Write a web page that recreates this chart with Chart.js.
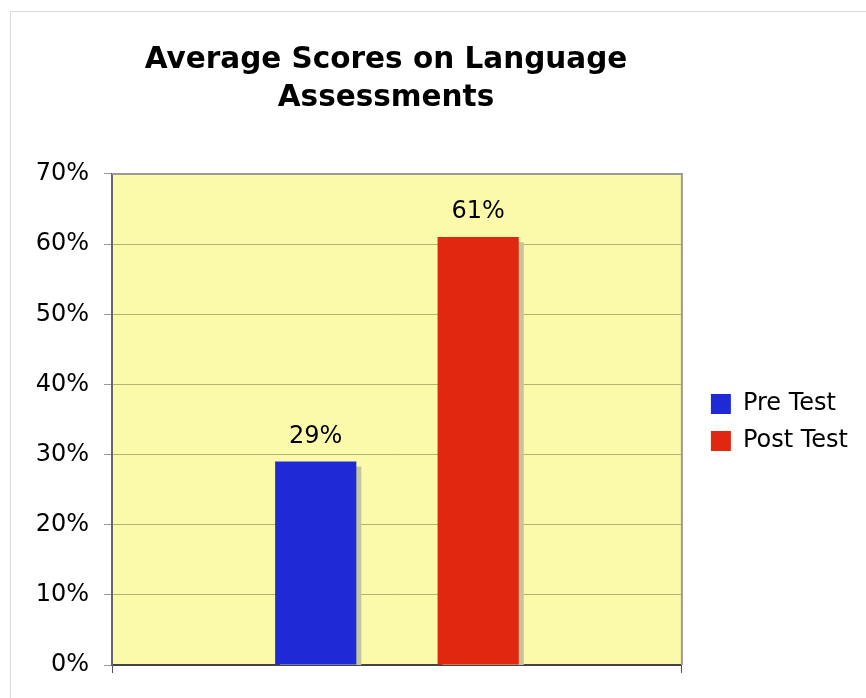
<!DOCTYPE html>
<html>
<head>
<meta charset="utf-8">
<script src="https://cdn.jsdelivr.net/npm/chart.js@4.4.1/dist/chart.umd.min.js"></script>
<style>
html,body{margin:0;padding:0;background:#fff;}
#frame{position:absolute;left:10px;top:11px;width:900px;height:800px;border-top:1px solid #dadada;border-left:1px solid #dadada;}
#wrap{position:absolute;left:0;top:0;width:866px;height:698px;}
</style>
</head>
<body>
<div id="frame"></div>
<div id="wrap"><canvas id="c" width="866" height="698"></canvas></div>
<script>
const titleLines = ["Average Scores on Language", "Assessments"];
const categories = [""];
const seriesNames = ["Pre Test", "Post Test"];
const preTest = [29];
const postTest = [61];
const seriesColors = ["#1F2AD6", "#E02810"];
const yMax = 70;
const yStep = 10;

const FONT = "'DejaVu Sans', Verdana, sans-serif";

const plotDecor = {
  id: 'plotDecor',
  beforeDraw(chart) {
    const {ctx, chartArea: a} = chart;
    ctx.save();
    ctx.fillStyle = '#FAFAAA';
    ctx.fillRect(a.left, a.top, a.right - a.left, a.bottom - a.top);
    ctx.restore();
  },
  beforeDatasetsDraw(chart) {
    const {ctx, chartArea: a} = chart;
    ctx.save();
    ctx.fillStyle = 'rgb(198,198,155)';
    chart.data.datasets.forEach((ds, i) => {
      chart.getDatasetMeta(i).data.forEach(bar => {
        const p = bar.getProps(['x','y','base','width'], true);
        const left = p.x - p.width / 2 + 5;
        const top = p.y + 5;
        ctx.fillRect(left, top, p.width, Math.max(0, a.bottom - top));
      });
    });
    ctx.strokeStyle = '#9a9a9a';
    ctx.lineWidth = 2;
    ctx.beginPath();
    ctx.moveTo(a.left, a.top);
    ctx.lineTo(a.right, a.top);
    ctx.lineTo(a.right, a.bottom);
    ctx.stroke();
    ctx.restore();
  },
  afterDatasetsDraw(chart) {
    const {ctx} = chart;
    ctx.save();
    ctx.fillStyle = '#000';
    ctx.font = "24px " + FONT;
    ctx.textAlign = 'center';
    ctx.textBaseline = 'middle';
    chart.data.datasets.forEach((ds, i) => {
      chart.getDatasetMeta(i).data.forEach((bar, j) => {
        const p = bar.getProps(['x','y'], true);
        ctx.fillText(ds.data[j] + '%', p.x, p.y - 25);
      });
    });
    ctx.restore();
  },
  afterLayout(chart) {
    if (chart.titleBlock) {
      chart.titleBlock.left = 0;
      chart.titleBlock.right = 772;
    }
    if (chart.legend) {
      chart.legend.left += 16;
      chart.legend.right += 16;
      chart.legend.top += 3;
      chart.legend.bottom += 3;
    }
  }
};

new Chart(document.getElementById('c'), {
  type: 'bar',
  plugins: [plotDecor],
  data: {
    labels: categories,
    datasets: [
      {label: seriesNames[0], data: preTest, backgroundColor: seriesColors[0], borderWidth: 0},
      {label: seriesNames[1], data: postTest, backgroundColor: seriesColors[1], borderWidth: 0}
    ]
  },
  options: {
    responsive: false,
    animation: false,
    events: [],
    categoryPercentage: 0.57,
    barPercentage: 0.5,
    layout: {padding: {left: 10, right: 24, top: 0, bottom: 25}},
    plugins: {
      tooltip: {enabled: false},
      title: {
        display: true,
        text: titleLines,
        color: '#000',
        font: {family: FONT, size: 29.5, weight: 'bold', lineHeight: 1.288},
        padding: {top: 41, bottom: 57}
      },
      legend: {
        position: 'right',
        align: 'center',
        fullSize: false,
        labels: {
          color: '#000',
          font: {family: FONT, size: 24},
          boxWidth: 20,
          boxHeight: 20,
          padding: 13
        }
      }
    },
    scales: {
      x: {
        offset: true,
        grid: {display: true, drawOnChartArea: false, drawTicks: true, tickLength: 8, tickColor: '#555', offset: true},
        border: {display: true, color: '#444', width: 2},
        ticks: {display: false}
      },
      y: {
        min: 0,
        max: yMax,
        afterFit(s) { s.width = 102; },
        ticks: {
          stepSize: yStep,
          padding: 15,
          color: '#000',
          font: {family: FONT, size: 24},
          callback: v => v + '%'
        },
        grid: {color: 'rgba(60,60,30,0.38)', tickColor: '#999', tickLength: 8, lineWidth: 1},
        border: {display: true, color: '#666', width: 2}
      }
    }
  }
});
</script>
</body>
</html>
